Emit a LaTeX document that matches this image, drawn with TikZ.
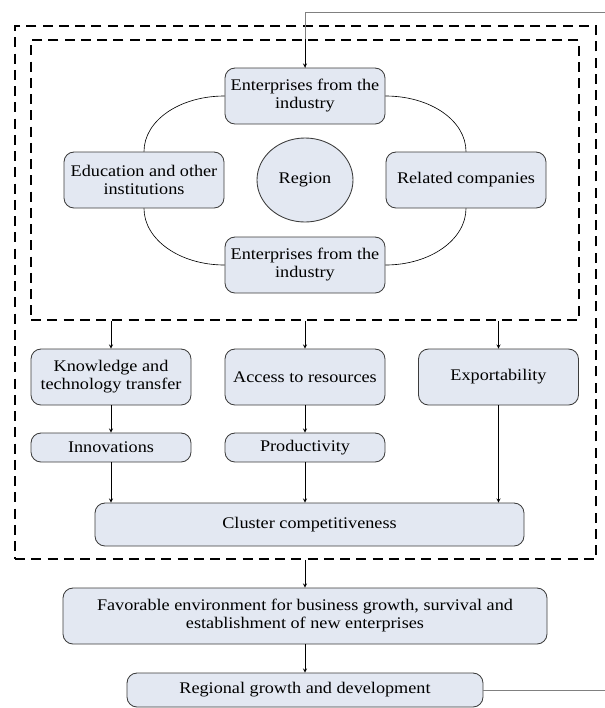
\documentclass[tikz,border=0pt]{standalone}
\usepackage{fontspec}
\setmainfont[FakeStretch=1.12]{Liberation Serif}
\usepackage{tikz}
\usetikzlibrary{arrows,shapes}
\definecolor{boxfill}{RGB}{227,232,242}
\definecolor{boxline}{RGB}{60,60,60}
\tikzstyle{block}=[draw=boxline,line width=0.7pt,fill=boxfill,rounded corners=8pt,align=center,minimum width=128pt,minimum height=44.8pt,inner sep=2pt,font=\fontsize{13}{14.4}\selectfont]
\tikzstyle{slim}=[block,minimum height=23.2pt]
\tikzstyle{dashbox}=[draw,line width=1.2pt,dash pattern=on 8pt off 5pt]
\tikzstyle{link} = [draw,line width=0.5pt,-]
\tikzstyle{arrow} = [draw,line width=0.5pt,->,>=stealth]

\begin{document}
\begin{tikzpicture}[x=0.8pt,y=-0.8pt]
    \useasboundingbox (0,0) rectangle (605,708);
    % Dashed frames round the cluster
    \node[dashbox,minimum width=464.8pt,minimum height=426.4pt] (outer) at (305.5,292.5) {};
    \node[dashbox,minimum width=438.4pt,minimum height=224pt] (inner) at (305,180) {};
    % The ring of actors round the region
    \foreach \pos/\name/\txt in {{(305,96)/top/{Enterprises from the\\industry}}, {(144,180)/edu/{Education and other\\institutions}}, {(466,180)/rel/{Related companies}}, {(305,265)/bot/{Enterprises from the\\industry}}}
        \node[block] (\name) at \pos {\txt};
    \node[block,ellipse,sharp corners,minimum width=76.8pt,minimum height=67.2pt] (region) at (305,180) {Region};
    \path[link] (top.west) .. controls +(-45,0) and +(0,-31) .. (edu.north);
    \path[link] (top.east) .. controls +(45,0) and +(0,-31) .. (rel.north);
    \path[link] (bot.west) .. controls +(-45,0) and +(0,31) .. (edu.south);
    \path[link] (bot.east) .. controls +(45,0) and +(0,31) .. (rel.south);
    % Effects
    \foreach \pos/\name/\txt in {{(111,377)/know/{Knowledge and\\technology transfer}}, {(305,377)/access/{Access to resources}}, {(498.5,377)/export/{Exportability}}}
        \node[block] (\name) at \pos {\txt};
    \foreach \pos/\name/\txt in {{(111,447.5)/innov/{Innovations}}, {(305,447.5)/prod/{Productivity}}}
        \node[slim] (\name) at \pos {\txt};
    \node[block,minimum width=343.2pt,minimum height=34.4pt] (clus) at (309.5,524.5) {Cluster competitiveness};
    \node[block,minimum width=387.2pt] (fav) at (305,616) {Favorable environment for business growth, survival and\\establishment of new enterprises};
    \node[block,minimum width=284.8pt,minimum height=27.2pt] (reg) at (305,690) {Regional growth and development};
    % Connect them
    \foreach \dest in {know,access,export}
        \path[arrow] (inner.south -| \dest.north) -- (\dest.north);
    \path[arrow] (know) -- (innov);
    \path[arrow] (access) -- (prod);
    \foreach \src in {innov,prod,export}
        \path[arrow] (\src.south) -- (\src.south |- clus.north);
    \path[arrow] (outer.south -| fav.north) -- (fav.north);
    \path[arrow] (fav) -- (reg);
    % Feedback to the enterprises
    \coordinate (fbtop) at (605,12);
    \coordinate (fbbot) at (605,690);
    \path[link,draw=gray,line width=0.7pt] (reg.east) -- (fbbot);
    \path[link,draw=gray,line width=0.7pt] (fbtop) -| (top.north);
    \path[arrow] (top.north |- inner.north) -- (top.north);
\end{tikzpicture}
\end{document}
